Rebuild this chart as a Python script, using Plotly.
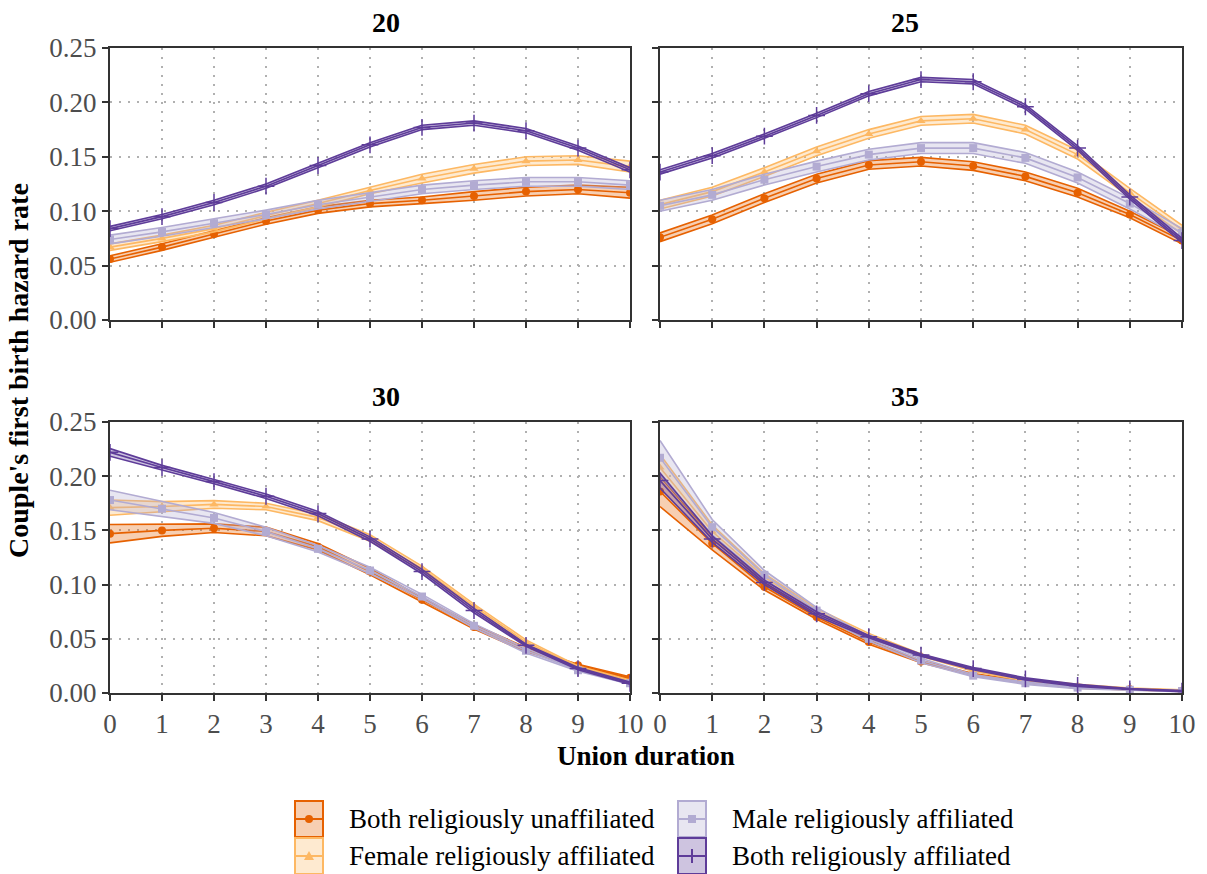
import plotly.graph_objects as go

# Union duration (years) on the x axis
duration = list(range(11))

# Panel labels (woman's age at union formation)
panels = ["20", "25", "30", "35"]

series_names = [
    "Both religiously unaffiliated",
    "Female religiously affiliated",
    "Male religiously affiliated",
    "Both religiously affiliated",
]
colors = ["#E66101", "#FDB863", "#B2ABD2", "#5E3C99"]
fills = ["rgba(230,97,1,0.30)", "rgba(253,184,99,0.30)",
         "rgba(178,171,210,0.30)", "rgba(94,60,153,0.30)"]
symbols = ["circle", "triangle-up", "square", "cross-thin"]

# Predicted hazard (point estimates)
unaff_20 = [0.056, 0.067, 0.079, 0.091, 0.101, 0.107, 0.110, 0.114, 0.118, 0.120, 0.117]
female_20 = [0.067, 0.075, 0.084, 0.096, 0.107, 0.119, 0.130, 0.139, 0.146, 0.147, 0.141]
male_20 = [0.074, 0.081, 0.089, 0.097, 0.106, 0.113, 0.120, 0.124, 0.127, 0.127, 0.124]
both_20 = [0.084, 0.095, 0.108, 0.123, 0.142, 0.161, 0.177, 0.181, 0.174, 0.158, 0.138]

unaff_25 = [0.076, 0.0925, 0.112, 0.130, 0.1425, 0.1455, 0.1415, 0.132, 0.117, 0.097, 0.073]
female_25 = [0.106, 0.118, 0.136, 0.155, 0.171, 0.183, 0.185, 0.175, 0.152, 0.117, 0.083]
male_25 = [0.105, 0.115, 0.129, 0.141, 0.152, 0.158, 0.158, 0.149, 0.131, 0.107, 0.080]
both_25 = [0.136, 0.151, 0.169, 0.188, 0.208, 0.221, 0.219, 0.196, 0.158, 0.113, 0.073]

unaff_30 = [0.147, 0.150, 0.152, 0.149, 0.135, 0.112, 0.086, 0.061, 0.040, 0.0255, 0.014]
female_30 = [0.171, 0.172, 0.174, 0.172, 0.162, 0.143, 0.115, 0.080, 0.047, 0.024, 0.011]
male_30 = [0.178, 0.170, 0.1615, 0.149, 0.133, 0.113, 0.089, 0.062, 0.039, 0.021, 0.009]
both_30 = [0.222, 0.208, 0.195, 0.1815, 0.1655, 0.142, 0.112, 0.076, 0.044, 0.0225, 0.009]

unaff_35 = [0.186, 0.138, 0.098, 0.070, 0.047, 0.029, 0.017, 0.010, 0.0055, 0.0034, 0.002]
female_35 = [0.208, 0.149, 0.107, 0.076, 0.053, 0.035, 0.021, 0.012, 0.007, 0.004, 0.0025]
male_35 = [0.217, 0.153, 0.109, 0.076, 0.050, 0.030, 0.016, 0.009, 0.005, 0.003, 0.0018]
both_35 = [0.196, 0.142, 0.102, 0.073, 0.052, 0.035, 0.0225, 0.013, 0.007, 0.0037, 0.0018]

# Half-width of the confidence band around each estimate
unaff_20_hw = [0.003, 0.003, 0.003, 0.003, 0.003, 0.003, 0.003, 0.004, 0.004, 0.004, 0.005]
female_20_hw = [0.003, 0.003, 0.003, 0.003, 0.003, 0.003, 0.004, 0.004, 0.004, 0.004, 0.005]
male_20_hw = [0.004, 0.004, 0.004, 0.004, 0.004, 0.004, 0.004, 0.004, 0.004, 0.004, 0.004]
both_20_hw = [0.002, 0.002, 0.002, 0.002, 0.002, 0.002, 0.002, 0.002, 0.002, 0.002, 0.002]

unaff_25_hw = [0.004, 0.004, 0.004, 0.004, 0.004, 0.004, 0.004, 0.004, 0.004, 0.003, 0.003]
female_25_hw = [0.004, 0.004, 0.004, 0.004, 0.004, 0.004, 0.004, 0.004, 0.004, 0.004, 0.004]
male_25_hw = [0.005, 0.005, 0.005, 0.005, 0.005, 0.005, 0.005, 0.005, 0.005, 0.005, 0.004]
both_25_hw = [0.002, 0.002, 0.002, 0.002, 0.002, 0.002, 0.002, 0.002, 0.002, 0.002, 0.002]

unaff_30_hw = [0.0085, 0.0055, 0.004, 0.004, 0.003, 0.003, 0.002, 0.002, 0.002, 0.001, 0.001]
female_30_hw = [0.007, 0.0045, 0.0035, 0.003, 0.003, 0.003, 0.002, 0.002, 0.002, 0.001, 0.001]
male_30_hw = [0.009, 0.007, 0.005, 0.004, 0.003, 0.003, 0.002, 0.002, 0.002, 0.001, 0.001]
both_30_hw = [0.0035, 0.002, 0.002, 0.002, 0.002, 0.002, 0.002, 0.002, 0.001, 0.001, 0.001]

unaff_35_hw = [0.014, 0.006, 0.003, 0.002, 0.002, 0.001, 0.001, 0.001, 0.001, 0.0005, 0.0005]
female_35_hw = [0.012, 0.006, 0.003, 0.002, 0.002, 0.001, 0.001, 0.001, 0.001, 0.0005, 0.0005]
male_35_hw = [0.016, 0.007, 0.004, 0.003, 0.002, 0.002, 0.001, 0.001, 0.001, 0.0005, 0.0005]
both_35_hw = [0.007, 0.003, 0.002, 0.002, 0.001, 0.001, 0.001, 0.001, 0.001, 0.0005, 0.0005]

estimates = {
    "20": [unaff_20, female_20, male_20, both_20],
    "25": [unaff_25, female_25, male_25, both_25],
    "30": [unaff_30, female_30, male_30, both_30],
    "35": [unaff_35, female_35, male_35, both_35],
}
halfwidths = {
    "20": [unaff_20_hw, female_20_hw, male_20_hw, both_20_hw],
    "25": [unaff_25_hw, female_25_hw, male_25_hw, both_25_hw],
    "30": [unaff_30_hw, female_30_hw, male_30_hw, both_30_hw],
    "35": [unaff_35_hw, female_35_hw, male_35_hw, both_35_hw],
}

FONT = "Liberation Serif"
axis_ids = {"20": ("x", "y"), "25": ("x2", "y2"), "30": ("x3", "y3"), "35": ("x4", "y4")}

fig = go.Figure()

for p in panels:
    xa, ya = axis_ids[p]
    for i, name in enumerate(series_names):
        mid = estimates[p][i]
        hw = halfwidths[p][i]
        lo = [m - h for m, h in zip(mid, hw)]
        hi = [m + h for m, h in zip(mid, hw)]
        fig.add_trace(go.Scatter(
            x=duration, y=lo, mode="lines", xaxis=xa, yaxis=ya,
            line=dict(color=colors[i], width=1.6), showlegend=False, hoverinfo="skip"))
        fig.add_trace(go.Scatter(
            x=duration, y=hi, mode="lines", xaxis=xa, yaxis=ya, fill="tonexty",
            fillcolor=fills[i], line=dict(color=colors[i], width=1.6),
            showlegend=False, hoverinfo="skip"))
        fig.add_trace(go.Scatter(
            x=duration, y=mid, mode="lines+markers", xaxis=xa, yaxis=ya,
            line=dict(color=colors[i], width=1.6),
            marker=dict(symbol=symbols[i], size=8 if i != 3 else 12, color=colors[i],
                        line=dict(color=colors[i], width=1.5 if i == 3 else 0)),
            showlegend=False, name=name))

# Figure geometry (pixels)
L, R, T, B = 110, 25, 48, 181
W, H = 1207, 874
pw, ph = W - L - R, H - T - B
xdom_left = [0, 520 / pw]
xdom_right = [550 / pw, 1]
ydom_bottom = [0, 271 / ph]
ydom_top = [373 / ph, 1]

axis_common = dict(
    showline=True, linecolor="#333333", linewidth=2, mirror=True,
    ticks="outside", tickcolor="#333333", ticklen=6, tickwidth=2,
    showgrid=True, gridcolor="#b0b0b0", gridwidth=1.5, griddash="2px,7px",
    zeroline=False, tickfont=dict(family=FONT, size=27, color="#4d4d4d"),
)

def xaxis(dom, anchor, labels):
    return dict(axis_common, domain=dom, anchor=anchor, range=[0, 10],
                tickmode="array", tickvals=duration, showticklabels=labels)

def yaxis(dom, anchor, labels):
    return dict(axis_common, domain=dom, anchor=anchor, range=[0, 0.25],
                tickmode="array", tickvals=[0, 0.05, 0.10, 0.15, 0.20, 0.25],
                ticktext=["0.00", "0.05", "0.10", "0.15", "0.20", "0.25"],
                showticklabels=labels)

fig.update_layout(
    width=W, height=H,
    margin=dict(l=L, r=R, t=T, b=B),
    paper_bgcolor="white", plot_bgcolor="white",
    font=dict(family=FONT, size=27, color="black"),
    xaxis=xaxis(xdom_left, "y", False),
    yaxis=yaxis(ydom_top, "x", True),
    xaxis2=xaxis(xdom_right, "y2", False),
    yaxis2=yaxis(ydom_top, "x2", False),
    xaxis3=xaxis(xdom_left, "y3", True),
    yaxis3=yaxis(ydom_bottom, "x3", True),
    xaxis4=xaxis(xdom_right, "y4", True),
    yaxis4=yaxis(ydom_bottom, "x4", False),
    showlegend=False,
)

# Facet titles
title_pos = {"20": (sum(xdom_left) / 2, 1.0), "25": (sum(xdom_right) / 2, 1.0),
             "30": (sum(xdom_left) / 2, ydom_bottom[1]), "35": (sum(xdom_right) / 2, ydom_bottom[1])}
for p in panels:
    x0, y0 = title_pos[p]
    fig.add_annotation(x=x0, y=y0, xref="paper", yref="paper", text=f"<b>{p}</b>",
                       showarrow=False, yanchor="bottom", yshift=8,
                       font=dict(family=FONT, size=28, color="black"))

# Shared axis titles
fig.add_annotation(x=0.5, y=0, xref="paper", yref="paper", text="<b>Union duration</b>",
                   showarrow=False, yanchor="top", yshift=-47, borderpad=0,
                   font=dict(family=FONT, size=27, color="black"))
fig.add_annotation(x=0, y=0.5, xref="paper", yref="paper",
                   text="<b>Couple's first birth hazard rate</b>", textangle=-90,
                   showarrow=False, xanchor="right", xshift=-74,
                   font=dict(family=FONT, size=28, color="black"))

# Legend drawn as boxed keys (band swatch + line + marker), two columns
def px_x(px):
    return (px - L) / pw

def px_y(py):
    return (H - B - py) / ph

key_w, key_h = 28, 36
col_left = [295, 678]
row_top = [801, 838]
legend_cells = [(0, 0, 0), (2, 1, 0), (1, 0, 1), (3, 1, 1)]  # (series, column, row)
shapes = []
for i, c, r in legend_cells:
    x0, y0 = col_left[c], row_top[r]
    x1, y1 = x0 + key_w, y0 + key_h
    cx, cy = (x0 + x1) / 2, (y0 + y1) / 2
    shapes.append(dict(type="rect", xref="paper", yref="paper",
                       x0=px_x(x0), x1=px_x(x1), y0=px_y(y1), y1=px_y(y0),
                       line=dict(color=colors[i], width=2), fillcolor=fills[i]))
    shapes.append(dict(type="line", xref="paper", yref="paper",
                       x0=px_x(x0 + 1), x1=px_x(x1 - 1), y0=px_y(cy), y1=px_y(cy),
                       line=dict(color=colors[i], width=2)))
    if symbols[i] == "circle":
        s = 4
        shapes.append(dict(type="circle", xref="paper", yref="paper",
                           x0=px_x(cx - s), x1=px_x(cx + s), y0=px_y(cy + s), y1=px_y(cy - s),
                           line=dict(width=0), fillcolor=colors[i]))
    elif symbols[i] == "triangle-up":
        s = 5
        path = (f"M {px_x(cx - s)} {px_y(cy + s * 0.8)} L {px_x(cx + s)} {px_y(cy + s * 0.8)} "
                f"L {px_x(cx)} {px_y(cy - s)} Z")
        shapes.append(dict(type="path", xref="paper", yref="paper", path=path,
                           line=dict(width=0), fillcolor=colors[i]))
    elif symbols[i] == "square":
        s = 4
        shapes.append(dict(type="rect", xref="paper", yref="paper",
                           x0=px_x(cx - s), x1=px_x(cx + s), y0=px_y(cy + s), y1=px_y(cy - s),
                           line=dict(width=0), fillcolor=colors[i]))
    else:
        s = 7
        shapes.append(dict(type="line", xref="paper", yref="paper",
                           x0=px_x(cx), x1=px_x(cx), y0=px_y(cy + s), y1=px_y(cy - s),
                           line=dict(color=colors[i], width=2)))
    fig.add_annotation(x=px_x(x1 + 24), y=px_y(cy), xref="paper", yref="paper",
                       text=series_names[i], showarrow=False, xanchor="left", yanchor="middle",
                       font=dict(family=FONT, size=27, color="black"))

fig.update_layout(shapes=shapes)

fig.write_html("out.html")
